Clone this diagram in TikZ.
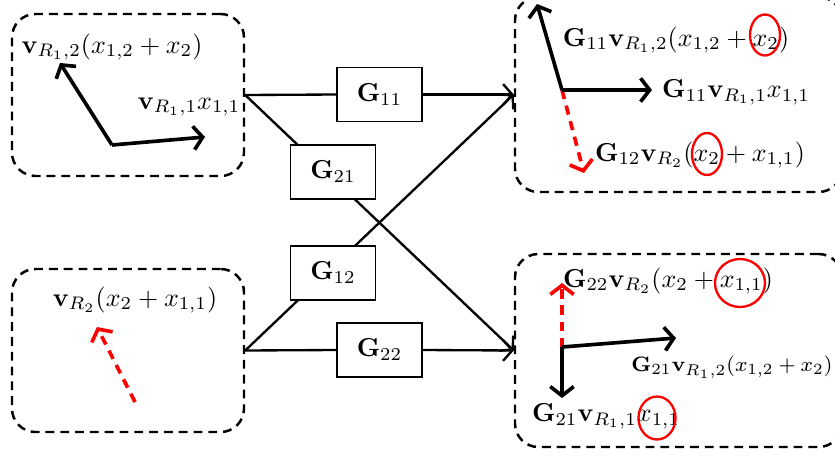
\documentclass[tikz,border=0pt]{standalone}
\usetikzlibrary{arrows.meta,shapes.geometric}
\tikzset{
  region/.style={draw, line width=0.95pt, dash pattern=on 3.4pt off 2.3pt, rounded corners=9pt, minimum width=#1},
  gbox/.style={draw, line width=0.75pt, fill=white, minimum width=85*0.385pt, minimum height=54*0.385pt, inner sep=0pt},
  conn/.style={line width=0.9pt, -{Straight Barb[length=3.5pt,width=8pt]}},
  plainconn/.style={line width=0.9pt},
  vec/.style={line width=1.4pt, -{Straight Barb[length=3.5pt,width=9pt]}},
  rvec/.style={red, line width=1.4pt, dash pattern=on 3.6pt off 2.6pt, -{Straight Barb[length=3.5pt,width=9pt]}},
  ring/.style={draw=red, line width=0.9pt, ellipse, inner sep=0pt},
  lbl/.style={inner sep=0pt}
}
\begin{document}
\begin{tikzpicture}[x=0.385pt,y=-0.385pt]
\useasboundingbox (0,0) rectangle (835,458);
% regions
\node[region=232*0.385pt, minimum height=162*0.385pt] (lt) at (128,95) {};
\node[region=232*0.385pt, minimum height=163*0.385pt] (lb) at (128,350.5) {};
\node[region=327*0.385pt, minimum height=195*0.385pt] (rt) at (678.5,94.5) {};
\node[region=327*0.385pt, minimum height=193*0.385pt] (rb) at (678.5,350.5) {};
% channel boxes
\node[gbox] (g11) at (379.5,94.5) {$\mathbf{G}_{11}$};
\node[gbox] (g22) at (379.5,350) {$\mathbf{G}_{22}$};
% connectors
\draw[plainconn] (lt.east) -- (g11.west);
\draw[conn] (g11.east) -- (rt.west);
\draw[plainconn] (lb.east) -- (g22.west);
\draw[conn] (g22.east) -- (rb.west);
\draw[conn] (lt.east) -- (rb.west);
\draw[conn] (lb.east) -- (rt.west);
\node[gbox] (g21) at (333,172) {$\mathbf{G}_{21}$};
\node[gbox] (g12) at (333,273) {$\mathbf{G}_{12}$};
% left top vectors
\coordinate (o1) at (112,145);
\coordinate (t11) at (205,137);
\coordinate (t12) at (60,63);
\draw[vec] (o1) -- (t11);
\draw[vec] (o1) -- (t12);
\node[lbl] (l1) at (112,47) {$\mathbf{v}_{R_1,2}(x_{1,2}+x_2)$};
\node[lbl] (l2) at (189,107) {$\mathbf{v}_{R_1,1}x_{1,1}$};
% left bottom vector
\coordinate (o2) at (135,402);
\coordinate (t2) at (97,327);
\draw[rvec] (o2) -- (t2);
\node[lbl] (l3) at (135,300) {$\mathbf{v}_{R_2}(x_2+x_{1,1})$};
% right top vectors
\coordinate (o3) at (562,90);
\coordinate (t31) at (537,4);
\coordinate (t32) at (652,90);
\coordinate (t33) at (584,173);
\draw[rvec] (o3) -- (t33);
\draw[vec] (o3) -- (t31);
\draw[vec] (o3) -- (t32);
\node[lbl] (l4) at (676,40) {$\mathbf{G}_{11}\mathbf{v}_{R_1,2}(x_{1,2}+x_2)$};
\node[lbl] (l5) at (736,92) {$\mathbf{G}_{11}\mathbf{v}_{R_1,1}x_{1,1}$};
\node[lbl] (l6) at (700,155) {$\mathbf{G}_{12}\mathbf{v}_{R_2}(x_2+x_{1,1})$};
\node[ring, minimum width=30*0.385pt, minimum height=41*0.385pt] (c1) at (765,35) {};
\node[ring, minimum width=30*0.385pt, minimum height=42*0.385pt] (c2) at (707,154) {};
% right bottom vectors
\coordinate (o4) at (562,347);
\coordinate (t41) at (562,283);
\coordinate (t42) at (676,338);
\coordinate (t43) at (562,398);
\draw[rvec] (o4) -- (t41);
\draw[vec] (o4) -- (t42);
\draw[vec] (o4) -- (t43);
\node[lbl] (l7) at (668,281) {$\mathbf{G}_{22}\mathbf{v}_{R_2}(x_2+x_{1,1})$};
\node[lbl] (l8) at (732,367) {\footnotesize$\mathbf{G}_{21}\mathbf{v}_{R_1,2}(x_{1,2}+x_2)$};
\node[lbl] (l9) at (606,416) {$\mathbf{G}_{21}\mathbf{v}_{R_1,1}x_{1,1}$};
\node[ring, minimum width=50*0.385pt, minimum height=48*0.385pt] (c3) at (740,283) {};
\node[ring, minimum width=37*0.385pt, minimum height=43*0.385pt] (c4) at (657,418) {};
\end{tikzpicture}
\end{document}
